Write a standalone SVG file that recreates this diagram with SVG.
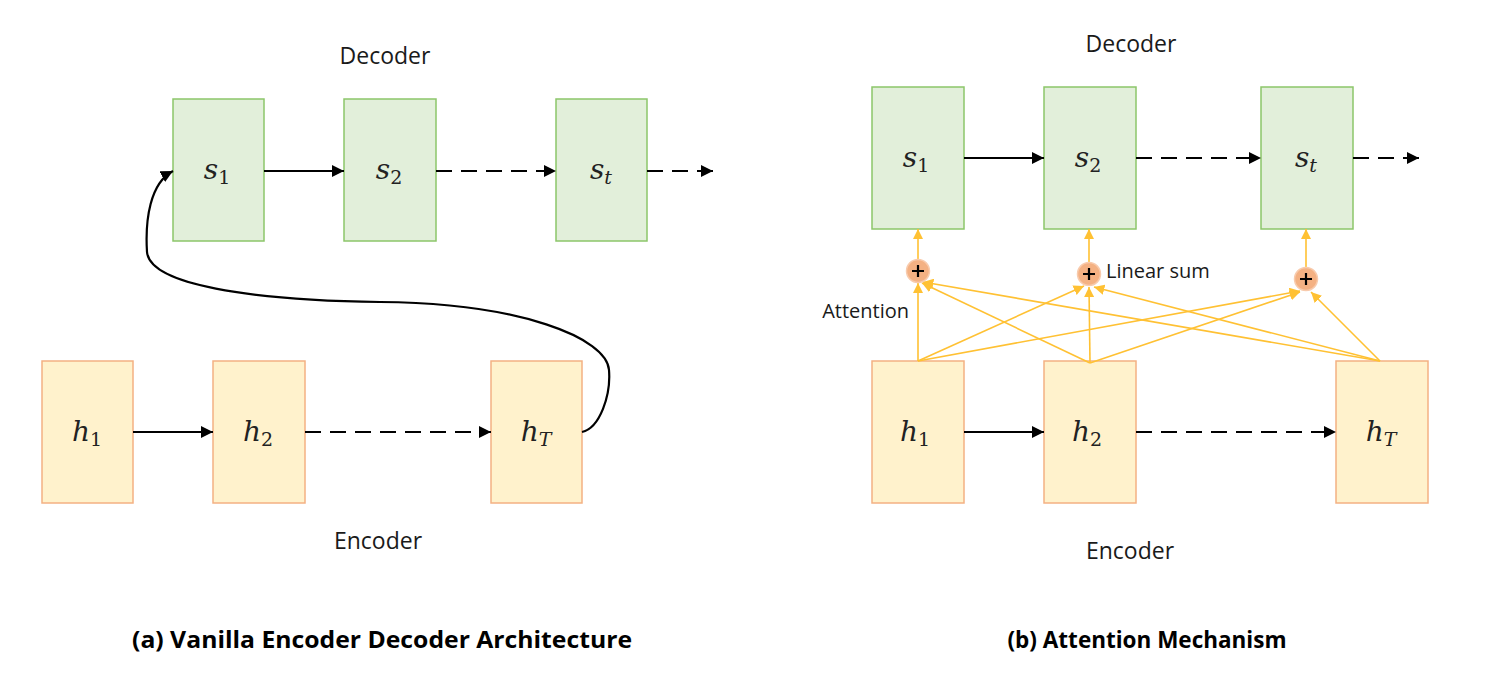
<svg xmlns="http://www.w3.org/2000/svg" width="1510" height="680" viewBox="0 0 1510 680">
<style>
.dec{fill:#E2EFDA;stroke:#8CC66A;stroke-width:1.5}
.enc{fill:#FFF2CC;stroke:#F4B183;stroke-width:1.5}
.lbl{font-family:"Open Sans","Liberation Sans",sans-serif;font-size:23px;fill:#1a1a1a;text-anchor:middle}
.cap{font-family:"Open Sans","Liberation Sans",sans-serif;font-size:24px;font-weight:bold;fill:#000;text-anchor:middle}
.math{font-family:"DejaVu Serif","Liberation Serif",serif;font-style:italic;font-size:28px;fill:#222;text-anchor:middle}
.sub{font-size:19px}
.num{font-style:normal}
.blk{stroke:#000;stroke-width:2.2;fill:none;marker-end:url(#ab)}
.dash{stroke-dasharray:16 9}
.att{stroke:#FFC133;stroke-width:1.6;fill:none;marker-end:url(#ay)}
.sum{fill:#F4B183;stroke:#F8CBAD;stroke-width:1.5}
.plus{stroke:#000;stroke-width:2.2}
.small{font-family:"Open Sans","Liberation Sans",sans-serif;font-size:20px;fill:#1a1a1a}
</style>
<defs>
<marker id="ab" viewBox="0 0 10 10" refX="10" refY="5" markerWidth="5.5" markerHeight="5.5" orient="auto" markerUnits="strokeWidth"><path d="M0,0 L10,5 L0,10 z" fill="#000"/></marker>
<marker id="ay" viewBox="0 0 10 10" refX="10" refY="5" markerWidth="6.5" markerHeight="6.5" orient="auto" markerUnits="strokeWidth"><path d="M0,0 L10,5 L0,10 z" fill="#FFC133"/></marker>
</defs>
<rect width="1510" height="680" fill="#fff"/>

<!-- Panel (a) -->
<text class="lbl" x="385" y="64">Decoder</text>
<text class="lbl" x="378" y="549">Encoder</text>
<g id="a_s1"><rect class="dec" x="173" y="99" width="91" height="142"/><text class="math" x="217" y="179">s<tspan class="sub num" dy="5">1</tspan></text></g>
<g id="a_s2"><rect class="dec" x="344" y="99" width="92" height="142"/><text class="math" x="389" y="179">s<tspan class="sub num" dy="5">2</tspan></text></g>
<g id="a_st"><rect class="dec" x="556" y="99" width="91" height="142"/><text class="math" x="601" y="179">s<tspan class="sub" dy="5">t</tspan></text></g>
<g id="a_h1"><rect class="enc" x="42" y="361" width="91" height="142"/><text class="math" x="87" y="441">h<tspan class="sub num" dy="5">1</tspan></text></g>
<g id="a_h2"><rect class="enc" x="213" y="361" width="92" height="142"/><text class="math" x="258" y="441">h<tspan class="sub num" dy="5">2</tspan></text></g>
<g id="a_hT"><rect class="enc" x="491" y="361" width="91" height="142"/><text class="math" x="536" y="441">h<tspan class="sub" dy="5">T</tspan></text></g>

<!-- Panel (b) -->
<text class="lbl" x="1131" y="52">Decoder</text>
<text class="lbl" x="1130" y="559">Encoder</text>
<g id="b_s1"><rect class="dec" x="872" y="87" width="92" height="142"/><text class="math" x="916" y="167">s<tspan class="sub num" dy="5">1</tspan></text></g>
<g id="b_s2"><rect class="dec" x="1044" y="87" width="92" height="142"/><text class="math" x="1088" y="167">s<tspan class="sub num" dy="5">2</tspan></text></g>
<g id="b_st"><rect class="dec" x="1261" y="87" width="92" height="142"/><text class="math" x="1306" y="167">s<tspan class="sub" dy="5">t</tspan></text></g>
<g id="b_h1"><rect class="enc" x="872" y="361" width="92" height="142"/><text class="math" x="915" y="441">h<tspan class="sub num" dy="5">1</tspan></text></g>
<g id="b_h2"><rect class="enc" x="1044" y="361" width="92" height="142"/><text class="math" x="1087" y="441">h<tspan class="sub num" dy="5">2</tspan></text></g>
<g id="b_hT"><rect class="enc" x="1336" y="361" width="92" height="142"/><text class="math" x="1381" y="441">h<tspan class="sub" dy="5">T</tspan></text></g>

<g id="connectors">
<path class="blk" d="M264,171 H344"/>
<path class="blk dash" d="M436,171 H556"/>
<path class="blk dash" d="M647,171 H713"/>
<path class="blk" d="M133,432 H213"/>
<path class="blk dash" d="M305,432 H491"/>
<path class="blk" d="M582,432 C600,428 611,395 609,370 C607,338 520,303 380,302 C250,300 150,285 147,252 C145,220 150,183 173,171"/>

<path class="blk" d="M964,158 H1044"/>
<path class="blk dash" d="M1136,158 H1261"/>
<path class="blk dash" d="M1353,158 H1419"/>
<path class="blk" d="M964,432 H1044"/>
<path class="blk dash" d="M1136,432 H1336"/>

<path class="att" d="M918,259 V229"/>
<path class="att" d="M1089,262 V229"/>
<path class="att" d="M1306,267 V229"/>

<path class="att" d="M918,361 V283"/>
<path class="att" d="M918,361 L1084,286"/>
<path class="att" d="M918,361 L1300,291"/>
<path class="att" d="M1090,363 L922,283"/>
<path class="att" d="M1090,363 L1089,287"/>
<path class="att" d="M1090,363 L1300,292"/>
<path class="att" d="M1380,361 L923,282"/>
<path class="att" d="M1380,361 L1094,287"/>
<path class="att" d="M1380,361 L1311,292"/>
</g>

<g id="sum1"><circle class="sum" cx="918" cy="271" r="11.5"/><path class="plus" d="M912,271 H924 M918,265 V277"/></g>
<g id="sum2"><circle class="sum" cx="1089" cy="274" r="11.5"/><path class="plus" d="M1083,274 H1095 M1089,268 V280"/></g>
<g id="sum3"><circle class="sum" cx="1306" cy="279" r="11.5"/><path class="plus" d="M1300,279 H1312 M1306,273 V285"/></g>

<text class="small" x="1106" y="278">Linear sum</text>
<text class="small" x="909" y="318" text-anchor="end">Attention</text>

<text class="cap" x="382" y="648" textLength="500" lengthAdjust="spacingAndGlyphs">(a) Vanilla Encoder Decoder Architecture</text>
<text class="cap" x="1147" y="648" textLength="279" lengthAdjust="spacingAndGlyphs">(b) Attention Mechanism</text>
</svg>
